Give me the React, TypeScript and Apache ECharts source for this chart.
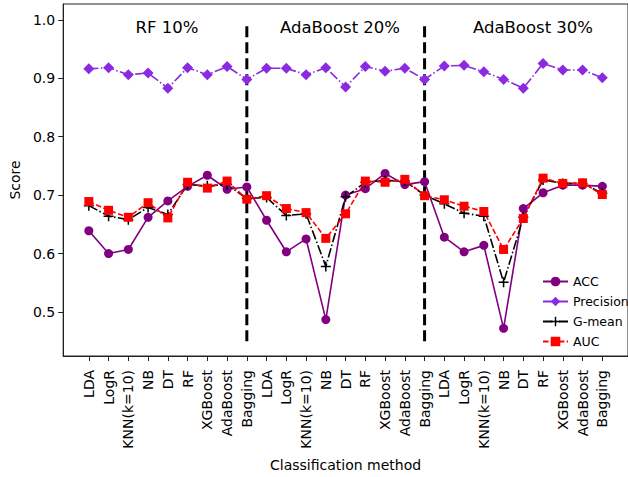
import React, { useEffect, useRef } from "react";
import * as echarts from "echarts";

const methods = ["LDA", "LogR", "KNN(k=10)", "NB", "DT", "RF", "XGBoost", "AdaBoost", "Bagging"];
const categories = [...methods, ...methods, ...methods];
const groupTitles = ["RF 10%", "AdaBoost 20%", "AdaBoost 30%"];

const acc = [
  0.639, 0.600, 0.607, 0.662, 0.690, 0.715, 0.734, 0.710, 0.714,
  0.657, 0.603, 0.625, 0.487, 0.700, 0.711, 0.737, 0.718, 0.723,
  0.628, 0.603, 0.614, 0.472, 0.677, 0.704, 0.717, 0.717, 0.715,
];
const precision = [
  0.916, 0.918, 0.906, 0.909, 0.883, 0.918, 0.906, 0.920, 0.898,
  0.917, 0.917, 0.906, 0.918, 0.885, 0.920, 0.912, 0.917, 0.898,
  0.921, 0.922, 0.911, 0.898, 0.883, 0.925, 0.914, 0.914, 0.901,
];
const gmean = [
  0.682, 0.664, 0.658, 0.679, 0.667, 0.718, 0.716, 0.718, 0.694,
  0.696, 0.665, 0.668, 0.578, 0.697, 0.722, 0.725, 0.724, 0.700,
  0.685, 0.669, 0.664, 0.551, 0.662, 0.726, 0.720, 0.720, 0.703,
];
const auc = [
  0.689, 0.674, 0.662, 0.687, 0.661, 0.722, 0.712, 0.724, 0.693,
  0.699, 0.677, 0.670, 0.626, 0.668, 0.724, 0.722, 0.727, 0.699,
  0.692, 0.681, 0.672, 0.607, 0.660, 0.729, 0.720, 0.721, 0.701,
];
const yTicks = [0.5, 0.6, 0.7, 0.8, 0.9, 1.0];
const separatorX = [8, 17];
const separatorRange = [0.45, 0.992];

const FONT = "DejaVu Sans";
const PLUS = "path://M4.25,0 L5.75,0 L5.75,4.25 L10,4.25 L10,5.75 L5.75,5.75 L5.75,10 L4.25,10 L4.25,5.75 L0,5.75 L0,4.25 L4.25,4.25 Z";

export default function App() {
  const ref = useRef<HTMLDivElement>(null);
  useEffect(() => {
    if (!ref.current) return;
    const chart = echarts.init(ref.current, null, { renderer: "svg" });
    const xIdx = categories.map((_, i) => i);
    const toPts = (arr: number[]) => arr.map((v, i) => [i, v]);
    const series: any[] = [
      {
        name: "ACC",
        type: "line",
        data: toPts(acc),
        symbol: "circle",
        symbolSize: 9,
        lineStyle: { color: "#800080", width: 1.6, type: "solid" },
        itemStyle: { color: "#800080" },
      },
      {
        name: "Precision",
        type: "line",
        data: toPts(precision),
        symbol: "diamond",
        symbolSize: 11,
        lineStyle: { color: "#8A2BE2", width: 1.6, type: [9.6, 2.4, 1.5, 2.4] },
        itemStyle: { color: "#8A2BE2" },
      },
      {
        name: "G-mean",
        type: "line",
        data: toPts(gmean),
        symbol: PLUS,
        symbolSize: 10,
        lineStyle: { color: "#000000", width: 1.6, type: [9.6, 2.4, 1.5, 2.4] },
        itemStyle: { color: "#000000" },
      },
      {
        name: "AUC",
        type: "line",
        data: toPts(auc),
        symbol: "rect",
        symbolSize: 9,
        lineStyle: { color: "#ff0000", width: 1.6, type: [5.5, 2.4] },
        itemStyle: { color: "#ff0000" },
      },
    ];
    separatorX.forEach((sx, k) => {
      series.push({
        name: "sep" + k,
        type: "line",
        data: separatorRange.map((v) => [sx, v]),
        symbol: "none",
        silent: true,
        lineStyle: { color: "#000000", width: 3, type: [11, 5] },
        z: 1,
      });
    });

    chart.setOption({
      animation: false,
      backgroundColor: "#ffffff",
      textStyle: { fontFamily: FONT },
      grid: {
        left: 61.5,
        top: 4,
        width: 575.7,
        height: 352,
        show: true,
        borderColor: "#222",
        borderWidth: 1,
      },
      legend: {
        data: ["ACC", "Precision", "G-mean", "AUC"],
        orient: "vertical",
        left: 537,
        top: 270,
        itemWidth: 25,
        itemHeight: 12,
        itemGap: 7,
        textStyle: { fontFamily: FONT, fontSize: 12.5, color: "#000" },
      },
      xAxis: {
        type: "value",
        min: -1.3,
        max: 27.3,
        name: "Classification method",
        nameLocation: "middle",
        nameGap: 102,
        nameTextStyle: { fontFamily: FONT, fontSize: 14, color: "#000" },
        splitLine: { show: false },
        axisLine: { show: true, onZero: false, lineStyle: { color: "#222", width: 1 } },
        axisTick: { show: true, length: 5, customValues: xIdx, lineStyle: { color: "#222" } },
        axisLabel: {
          customValues: xIdx,
          rotate: 90,
          margin: 14,
          fontFamily: FONT,
          fontSize: 14,
          color: "#000",
          formatter: (v: number) => categories[Math.round(v)] ?? "",
        },
      },
      yAxis: {
        type: "value",
        min: 0.4247,
        max: 1.027,
        name: "Score",
        nameLocation: "middle",
        nameGap: 40,
        nameTextStyle: { fontFamily: FONT, fontSize: 14, color: "#000" },
        splitLine: { show: false },
        axisLine: { show: true, onZero: false, lineStyle: { color: "#222", width: 1 } },
        axisTick: { show: true, length: 5, customValues: yTicks, lineStyle: { color: "#222" } },
        axisLabel: {
          customValues: yTicks,
          margin: 8,
          fontFamily: FONT,
          fontSize: 14,
          color: "#000",
          formatter: (v: number) => v.toFixed(1),
        },
      },
      graphic: [
        { type: "text", x: 167, y: 27, style: { text: groupTitles[0], font: `16.5px "${FONT}"`, fill: "#000", textAlign: "center", textVerticalAlign: "middle" } },
        { type: "text", x: 340, y: 27, style: { text: groupTitles[1], font: `16.5px "${FONT}"`, fill: "#000", textAlign: "center", textVerticalAlign: "middle" } },
        { type: "text", x: 533, y: 27, style: { text: groupTitles[2], font: `16.5px "${FONT}"`, fill: "#000", textAlign: "center", textVerticalAlign: "middle" } },
      ],
      series,
    });
    return () => chart.dispose();
  }, []);
  return (
    <div
      ref={ref}
      style={{ position: "fixed", left: 0, top: 0, width: 628, height: 477, background: "#fff" }}
    />
  );
}
